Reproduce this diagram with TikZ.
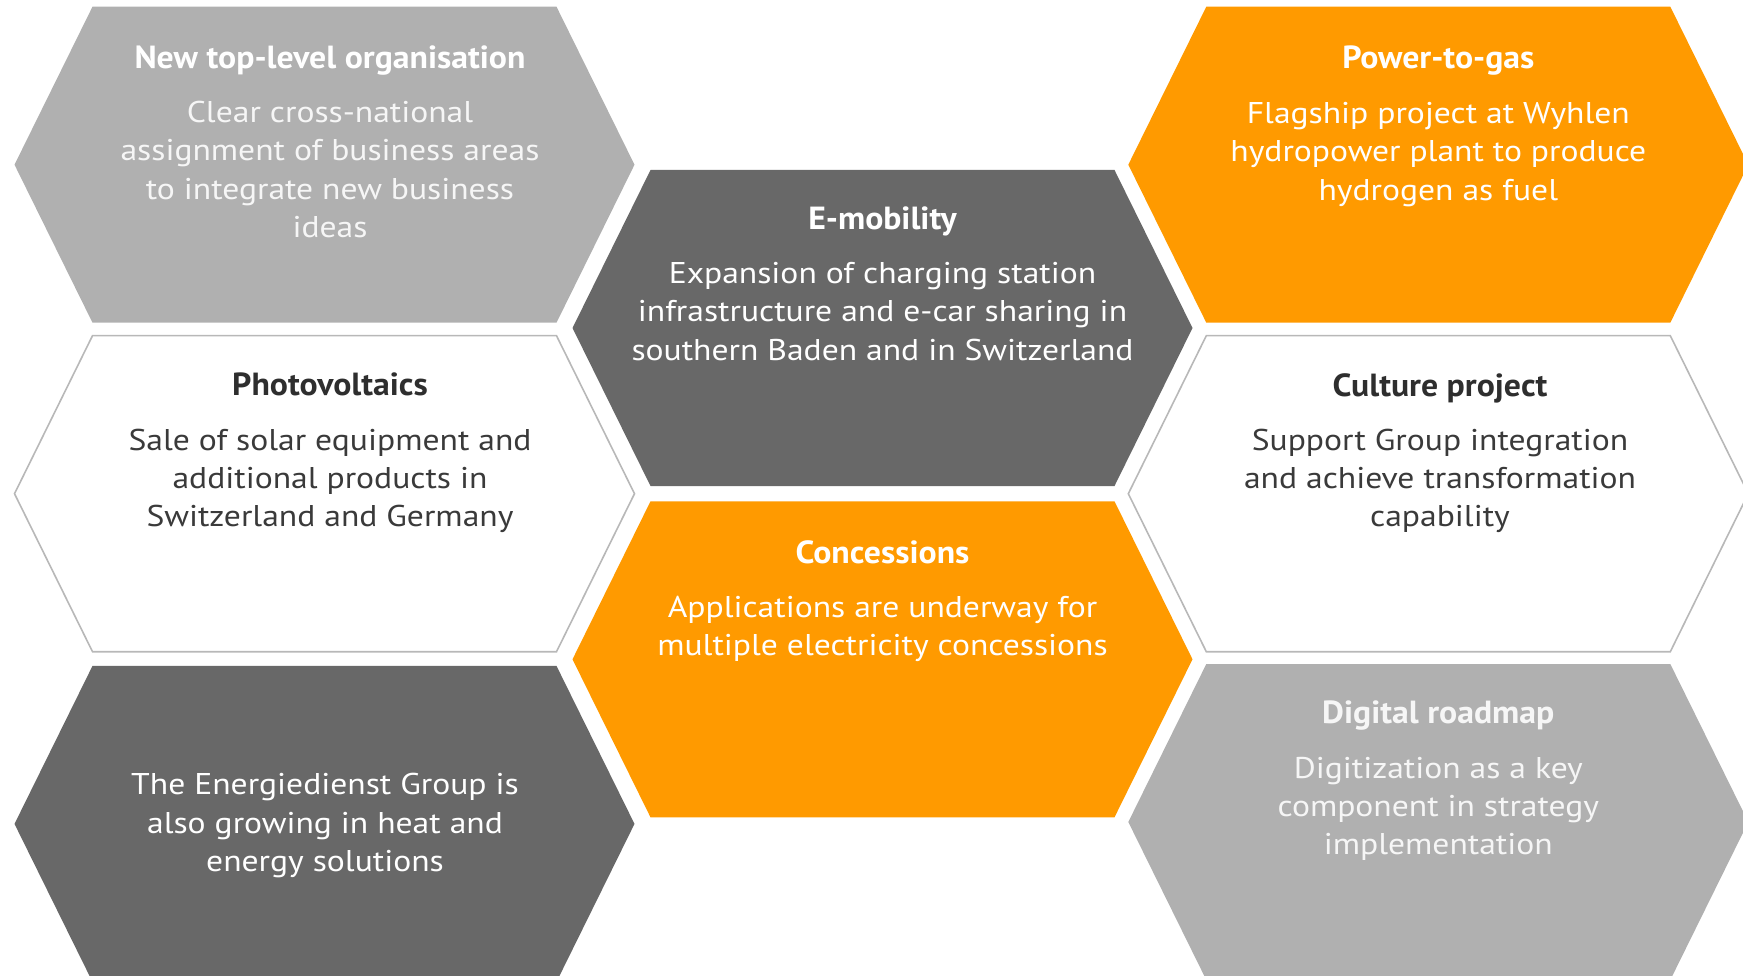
\documentclass[tikz,border=0pt]{standalone}
\usepackage{fontspec}
\setmainfont{PT Sans}
\newfontfamily\bodyfont[FakeStretch=1.12]{PT Sans}
\newfontfamily\titlefont[FakeStretch=1.055]{PT Sans}
\definecolor{lgray}{HTML}{B0B0B0}
\definecolor{dgray}{HTML}{686868}
\definecolor{orng}{HTML}{FF9A00}
\definecolor{edgegray}{HTML}{B8B8B8}
\definecolor{ink}{HTML}{3A3A3A}
\definecolor{inkdark}{HTML}{2E2E2E}
\definecolor{softwhite}{HTML}{F6F6F6}
\newcommand\hexpath[2]{({#1},{#2+158}) -- ({#1+78},{#2}) -- ({#1+542},{#2}) -- ({#1+620},{#2+158}) -- ({#1+542},{#2+316}) -- ({#1+78},{#2+316}) -- cycle}
\tikzset{
  hexfill/.style={fill=#1, draw=none},
  hexline/.style={fill=white, draw=edgegray, line width=1.6pt},
  ttl/.style={font=\titlefont\bfseries\fontsize{32}{38}\selectfont, anchor=base, inner sep=0pt},
  bdy/.style={font=\bodyfont\fontsize{30}{38.3}\selectfont, align=center, anchor=north, inner sep=0pt},
}
\begin{document}
\begin{tikzpicture}[x=1pt,y=-1pt]
\useasboundingbox (0,0) rectangle (1743,976);
\clip (0,0) rectangle (1743,976);
% hexagons
\path[hexfill=lgray] \hexpath{14.5}{6.7};
\path[hexline] \hexpath{14.5}{335.7};
\path[hexfill=dgray] \hexpath{14.5}{665.9};
\path[hexfill=dgray] \hexpath{572.5}{170};
\path[hexfill=orng] \hexpath{572.5}{501.3};
\path[hexfill=orng] \hexpath{1128.3}{6.7};
\path[hexline] \hexpath{1128.3}{335.7};
\path[hexfill=lgray] \hexpath{1128.3}{664};
% texts
\node[ttl, text=white] (tA) at (330,68.8) {New top-level organisation};
\node[bdy, text=softwhite] (bA) at (330,100.9) {Clear cross-national\\assignment of business areas\\to integrate new business\\ideas};
\node[ttl, text=white] (tD) at (882.5,230) {E-mobility};
\node[bdy, text=white] (bD) at (882.5,262.1) {Expansion of charging station\\infrastructure and e-car sharing in\\southern Baden and in Switzerland};
\node[ttl, text=white] (tF) at (1438.3,69) {Power-to-gas};
\node[bdy, text=white] (bF) at (1438.3,102) {Flagship project at Wyhlen\\hydropower plant to produce\\hydrogen as fuel};
\node[ttl, text=inkdark] (tB) at (330,395.6) {Photovoltaics};
\node[bdy, text=ink] (bB) at (330,428.6) {Sale of solar equipment and\\additional products in\\Switzerland and Germany};
\node[ttl, text=inkdark] (tG) at (1440,396.7) {Culture project};
\node[bdy, text=ink] (bG) at (1440,428.6) {Support Group integration\\and achieve transformation\\capability};
\node[ttl, text=white] (tE) at (882.5,563.5) {Concessions};
\node[bdy, text=white] (bE) at (882.5,595.6) {Applications are underway for\\multiple electricity concessions};
\node[bdy, text=white] (bC) at (325,773.4) {The Energiedienst Group is\\also growing in heat and\\energy solutions};
\node[ttl, text=softwhite] (tH) at (1438.3,723.5) {Digital roadmap};
\node[bdy, text=softwhite] (bH) at (1438.3,756.6) {Digitization as a key\\component in strategy\\implementation};
\end{tikzpicture}
\end{document}
